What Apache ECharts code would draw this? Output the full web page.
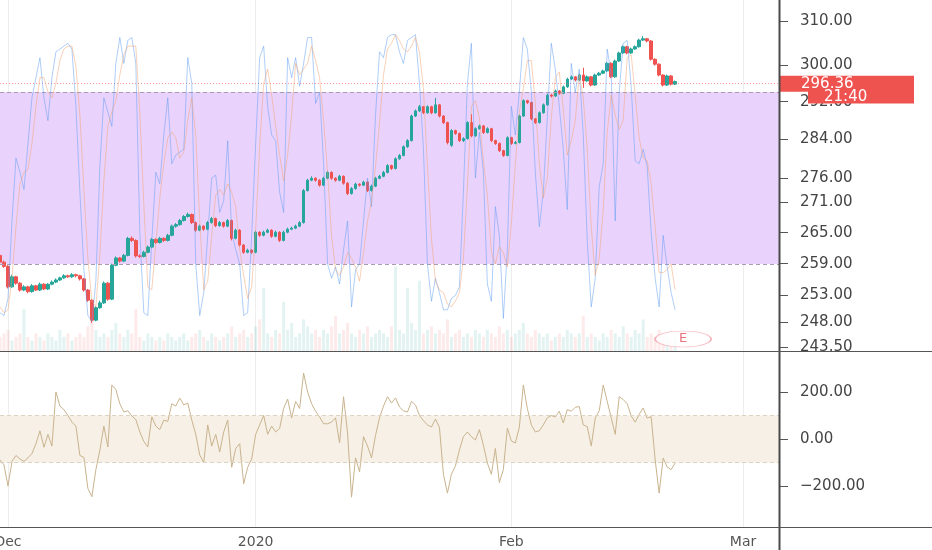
<!DOCTYPE html>
<html><head><meta charset="utf-8">
<script src="https://cdn.jsdelivr.net/npm/echarts@6/dist/echarts.min.js"></script>
<style>html,body{margin:0;padding:0;background:#fff;overflow:hidden}#c{width:932px;height:550px}</style>
</head><body><div id="c"></div><script>
// ---------- data ----------
const slotCount = 196;
const monthIdx = [2, 64, 128, 186];
const monthLabels = ['Dec', '2020', 'Feb', 'Mar'];

const opens = [
260.6,259.3,258.5,254.6,256.5,255.3,254.0,254.6,253.7,254.8,
254.0,255.1,254.2,255.1,255.5,255.9,256.3,256.7,256.5,256.9,
256.7,256.1,254.0,252.1,248.4,250.7,251.6,255.3,252.3,258.7,
260.1,259.5,260.6,263.9,263.5,260.5,260.4,261.2,262.2,263.7,
263.1,263.9,263.5,264.5,266.3,266.6,267.4,268.2,268.6,267.0,
265.5,266.3,265.7,267.0,267.8,266.4,267.0,266.3,267.4,263.9,
265.5,262.6,261.2,261.6,261.2,265.1,264.5,265.1,265.5,264.3,
265.1,263.5,265.1,265.7,265.9,266.3,267.0,273.4,275.5,275.9,
275.5,274.5,275.9,277.1,275.9,275.5,276.3,274.9,272.8,273.8,
274.7,274.5,275.1,273.4,274.3,275.9,276.3,277.1,278.5,277.9,
279.9,280.6,282.4,283.7,288.9,290.0,290.9,289.6,290.9,289.6,
291.3,288.9,287.5,282.7,285.8,285.2,283.7,284.1,287.5,284.7,
286.2,286.8,285.4,286.2,283.7,283.1,281.6,280.6,284.3,283.1,
283.3,288.9,292.2,291.8,288.3,287.5,289.6,291.3,293.4,293.2,
294.3,293.8,295.2,296.9,297.4,296.7,297.8,296.5,297.4,295.6,
297.8,298.2,298.7,300.4,297.4,300.9,302.7,304.1,302.7,303.6,
304.1,305.6,305.9,305.4,301.3,300.2,297.8,295.6,297.6,295.8];

const closes = [
259.3,258.5,254.6,256.5,255.3,254.0,254.6,253.7,254.8,254.0,
255.1,254.2,255.1,255.5,255.9,256.3,256.7,256.5,256.9,256.7,
256.1,254.0,252.1,248.4,250.7,251.6,255.3,252.3,258.7,260.1,
259.5,260.6,263.9,263.5,260.5,260.4,261.2,262.2,263.7,263.1,
263.9,263.5,264.5,266.3,266.6,267.4,268.2,268.6,267.0,265.5,
266.3,265.7,267.0,267.8,266.4,267.0,266.3,267.4,263.9,265.5,
262.6,261.2,261.6,261.2,265.1,264.5,265.1,265.5,264.3,265.1,
263.5,265.1,265.7,265.9,266.3,267.0,273.4,275.5,275.9,275.5,
274.5,275.9,277.1,275.9,275.5,276.3,274.9,272.8,273.8,274.7,
274.5,275.1,273.4,274.3,275.9,276.3,277.1,278.5,277.9,279.9,
280.6,282.4,283.7,288.9,290.0,290.9,289.6,290.9,289.6,291.3,
288.9,287.5,283.3,285.8,285.2,283.7,284.1,287.5,284.7,286.2,
286.8,285.4,286.2,283.7,283.1,281.6,280.6,284.3,283.1,283.3,
288.9,292.2,291.8,288.3,287.5,289.6,291.3,293.4,293.2,294.3,
293.8,295.2,296.9,297.4,296.7,297.8,296.5,297.4,295.6,297.8,
298.2,298.7,300.4,297.4,300.9,302.7,304.1,302.7,303.6,304.1,
305.6,305.9,305.4,301.3,300.2,297.8,295.6,297.6,295.8,296.36];

const highs = [
261.0,259.6,258.7,256.9,256.7,255.5,254.9,254.8,255.1,255.0,
255.4,255.3,255.3,255.8,256.2,256.5,257.0,256.9,257.2,257.1,
256.9,256.3,254.2,252.3,251.0,252.0,255.6,255.5,259.0,260.4,
260.3,260.9,264.2,264.3,263.7,260.8,261.5,262.5,264.0,263.9,
264.2,264.1,264.8,266.6,266.9,267.7,268.5,269.0,268.8,267.2,
266.6,266.5,267.3,268.1,268.0,267.3,267.2,267.7,267.6,265.8,
265.7,262.8,261.9,261.8,265.4,265.3,265.4,265.8,265.7,265.4,
265.3,265.4,266.0,266.2,266.6,267.3,273.7,275.8,276.3,276.1,
275.7,276.2,277.4,277.3,276.1,276.6,276.5,275.1,274.1,275.0,
274.9,275.4,275.3,274.6,276.2,276.6,277.4,278.8,278.7,280.2,
280.9,282.7,284.0,289.2,290.3,291.3,291.1,291.2,291.1,292.8,
291.5,289.1,287.7,286.1,286.0,285.4,284.4,287.8,289.3,286.5,
287.1,287.0,286.5,286.4,283.9,283.3,281.8,284.6,284.5,283.6,
289.2,292.5,292.4,292.0,288.5,289.9,291.6,293.7,293.7,294.6,
294.5,295.5,297.2,297.7,297.6,298.1,299.4,297.7,297.6,298.1,
298.5,299.0,300.7,300.6,301.2,303.0,304.4,304.3,303.9,304.4,
305.9,306.5,306.1,305.6,301.5,300.4,298.0,297.9,297.8,296.6];

const lows = [
259.0,258.2,254.3,254.4,255.0,253.7,253.8,253.4,253.5,253.8,
253.8,254.0,254.0,254.9,255.3,255.7,256.1,256.3,256.3,256.4,
255.8,253.7,251.8,247.9,248.2,250.5,251.4,252.0,252.1,258.5,
259.2,259.3,260.4,263.2,260.2,260.1,260.2,261.0,262.0,262.8,
262.9,263.2,263.3,264.3,266.0,266.4,267.2,268.0,266.7,265.2,
265.3,265.4,265.5,266.8,266.1,266.2,266.0,266.1,263.5,263.7,
262.3,260.9,261.0,260.9,261.0,264.2,264.3,264.9,264.0,264.1,
263.2,263.3,264.9,265.5,265.7,266.1,266.8,273.2,275.3,275.2,
274.2,274.3,275.7,275.6,275.2,275.3,274.6,272.5,272.6,273.6,
274.2,274.3,273.1,273.2,274.1,275.7,276.1,276.9,277.6,277.7,
279.7,280.4,282.2,283.5,288.7,289.8,289.3,289.4,289.3,289.4,
288.6,287.2,282.9,282.4,284.9,283.4,283.4,283.9,284.4,284.5,
286.0,285.1,285.2,283.4,282.8,281.3,280.3,280.4,282.8,282.9,
283.1,288.7,291.5,288.0,287.2,287.3,289.4,291.1,292.9,293.0,
293.5,293.6,295.0,296.7,296.4,296.5,295.0,296.3,295.3,295.4,
297.6,298.0,298.5,297.1,297.2,300.7,302.5,302.4,302.5,303.4,
303.9,305.4,305.1,301.0,299.9,297.5,295.3,295.4,295.5,295.6];

const volumes = [
4,5,6,3,4,5,12,4,3,5,
4,3,5,4,3,6,4,5,3,4,
5,4,7,10,6,4,5,4,6,8,
5,4,6,5,12,4,3,5,4,3,
4,3,5,4,3,4,5,3,4,5,
6,4,3,5,4,3,4,5,7,4,
5,6,4,5,7,9,18,5,4,6,
5,14,6,8,4,5,9,7,5,6,
4,6,5,7,10,5,6,8,5,4,
6,5,7,4,5,6,5,4,7,24,
6,5,18,8,6,20,5,6,7,5,
6,5,9,4,5,6,4,5,4,6,
5,4,6,5,4,7,5,6,4,5,
6,8,5,4,6,5,4,5,3,4,
5,4,6,5,4,5,10,4,5,4,
3,5,4,6,5,4,7,5,4,6,
5,9,4,5,4,6,5,4,3,4];

const stochK = [
3,2,8,35,57,52,46,62,78,85,
92,78,70,85,94,95,96,97,95,75,
45,18,2,0,14,54,78,73,68,90,
99,90,98,99,90,31,3,2,28,52,
48,65,78,55,58,59,60,92,83,20,
2,10,30,50,51,38,42,63,31,25,
20,2,3,30,62,92,96,75,65,63,
45,38,92,85,92,82,90,99,99,76,
80,55,20,15,19,13,25,35,5,18,
20,35,50,40,72,94,92,99,100,100,
94,90,98,99,100,83,60,20,7,15,
10,4,4,8,9,12,45,83,97,50,
66,52,13,7,40,30,1,25,75,65,
80,99,95,80,52,33,45,71,97,88,
75,60,39,90,80,88,65,28,5,15,
47,55,95,86,35,80,97,98,82,56,
55,60,54,31,15,5,30,19,10,4];

const stochD = [
5,3,4,15,33,48,52,53,62,75,
85,85,80,78,83,91,95,96,96,89,
72,46,22,7,5,23,49,68,73,77,
86,93,96,96,96,73,41,12,11,27,
43,55,64,66,64,57,59,70,78,65,
35,11,14,30,44,46,44,48,45,40,
25,16,8,12,32,61,83,88,79,68,
58,49,58,72,90,86,88,90,96,91,
85,70,52,30,18,16,19,24,22,19,
14,24,35,42,54,69,86,95,97,100,
98,95,94,96,99,94,81,54,29,14,
11,10,6,5,7,10,22,47,75,77,
71,56,44,24,20,26,24,19,34,55,
73,81,91,91,76,55,43,50,71,85,
87,74,58,63,70,86,78,60,33,16,
22,39,66,79,72,67,70,92,93,79,
64,57,56,48,33,17,17,18,20,11];

const cci = [
-89,-110,-200,-95,-70,-85,-95,-80,-62,-20,
35,-35,20,-30,200,140,125,100,72,55,
-70,-78,-210,-245,-130,-47,55,-34,230,210,
150,115,120,98,83,30,-10,-34,94,55,
40,80,75,150,140,174,145,153,81,20,
-68,-100,60,-30,20,-55,30,81,-120,-40,
-20,-190,-120,-85,20,60,100,20,55,30,
45,130,170,90,160,130,280,200,150,118,
94,65,65,72,90,-17,180,26,-247,-80,
-140,10,-30,-80,15,90,140,180,153,175,
136,120,115,160,145,100,78,60,51,85,
50,-150,-230,-150,-115,-47,10,30,10,-4,
40,-26,-102,-150,-40,-185,-130,47,-8,-17,
50,230,130,60,30,35,60,90,100,94,
118,68,125,118,135,138,60,53,-30,89,
120,230,160,90,20,180,168,150,98,72,
105,132,89,95,-89,-230,-81,-119,-130,-102];

const priceTicks = [310, 300, 292, 284, 276, 271, 265, 259, 253, 248, 243.5];
const cciTicks = [200, 0, -200];
const priceRange = [242.8, 314.8];
const stochRange = [-10.36, 112.1];
const volumeRange = [0, 100];
const cciRange = [-374, 370];
const stochBand = [20, 80];
const cciBand = [-100, 100];
const lastPrice = 296.36;
const countdown = '21:40';
const earnings = { index: 171, level: 3.4, label: 'E' };

// ---------- layout / style ----------
const W = 932, H = 550, PLOT_W = 779, TOP_H = 351, BOT_TOP = 352, BOT_H = 175;
const UP = '#26a69a', DOWN = '#ef5350';
const FONT = 'DejaVu Sans';

const cats = Array.from({ length: slotCount }, (_, i) => String(i));
const isMonth = (i) => monthIdx.indexOf(i) >= 0;
const lg = Math.log;

const candleData = opens.map((o, i) => [lg(o), lg(closes[i]), lg(lows[i]), lg(highs[i])]);
const volData = volumes.map((v, i) => ({
  value: v,
  itemStyle: { color: closes[i] >= opens[i] ? 'rgba(38,166,154,0.13)' : 'rgba(239,83,80,0.12)' }
}));

const chart = echarts.init(document.getElementById('c'));
const xBase = {
  type: 'category', data: cats, boundaryGap: false,
  axisLine: { show: false },
  splitLine: { show: true, interval: (i) => isMonth(i), lineStyle: { color: 'rgba(0,0,0,0.07)', width: 1 } }
};

chart.setOption({
  animation: false,
  backgroundColor: '#fff',
  grid: [
    { left: 0, top: 0, width: PLOT_W, height: TOP_H, outerBoundsMode: 'none', containLabel: false },
    { left: 0, top: BOT_TOP, width: PLOT_W, height: BOT_H, outerBoundsMode: 'none', containLabel: false }
  ],
  xAxis: [
    Object.assign({}, xBase, { gridIndex: 0, axisTick: { show: false }, axisLabel: { show: false } }),
    Object.assign({}, xBase, {
      gridIndex: 1,
      axisTick: { show: true, interval: (i) => isMonth(i), length: 4, lineStyle: { color: '#555', width: 1.5 } },
      axisLabel: {
        show: true, interval: (i) => isMonth(i), margin: 8,
        formatter: (v, i) => monthLabels[monthIdx.indexOf(i)] || '',
        color: '#555', fontSize: 14, fontFamily: FONT
      }
    })
  ],
  yAxis: [
    {
      gridIndex: 0, type: 'value', position: 'right', min: lg(priceRange[0]), max: lg(priceRange[1]),
      axisLine: { show: false }, splitLine: { show: false },
      axisTick: { show: true, customValues: priceTicks.map(lg), length: 9, lineStyle: { color: '#555' } },
      axisLabel: {
        customValues: priceTicks.map(lg), margin: 21, color: '#444', fontSize: 15, fontFamily: FONT,
        formatter: (v) => Math.exp(v).toFixed(2)
      }
    },
    { gridIndex: 0, type: 'value', min: stochRange[0], max: stochRange[1], show: false },
    { gridIndex: 0, type: 'value', min: volumeRange[0], max: volumeRange[1], show: false },
    {
      gridIndex: 1, type: 'value', position: 'right', min: cciRange[0], max: cciRange[1],
      axisLine: { show: false }, splitLine: { show: false },
      axisTick: { show: true, customValues: cciTicks, length: 9, lineStyle: { color: '#555' } },
      axisLabel: {
        customValues: cciTicks, margin: 21, color: '#444', fontSize: 15, fontFamily: FONT,
        formatter: (v) => { const r = Math.round(v); return (r < 0 ? '\u2212' : '') + Math.abs(r).toFixed(2); }
      }
    }
  ],
  series: [
    {
      name: 'StochBand', type: 'line', xAxisIndex: 0, yAxisIndex: 1, data: stochK, z: 1, silent: true,
      showSymbol: false, lineStyle: { opacity: 0 },
      markArea: { silent: true, itemStyle: { color: '#e9d3fd' }, data: [[{ yAxis: stochBand[0] }, { yAxis: stochBand[1] }]] },
      markLine: { silent: true, symbol: ['none', 'none'], label: { show: false },
        lineStyle: { color: '#a99bb3', type: [4, 3], width: 1 },
        data: [{ yAxis: stochBand[0] }, { yAxis: stochBand[1] }] }
    },
    {
      name: 'Volume', type: 'bar', xAxisIndex: 0, yAxisIndex: 2, data: volData, barWidth: 3, z: 2, silent: true
    },
    {
      name: 'Price', type: 'candlestick', xAxisIndex: 0, yAxisIndex: 0, data: candleData, barWidth: 3, z: 4,
      clip: false,
      itemStyle: { color: UP, color0: DOWN, borderColor: UP, borderColor0: DOWN, borderWidth: 1 },
      markLine: {
        silent: true, symbol: ['none', 'none'],
        lineStyle: { color: 'rgba(239,83,80,0.6)', type: [1, 2], width: 1 },
        label: {
          show: true, position: 'end', distance: 0, formatter: lastPrice.toFixed(2),
          backgroundColor: DOWN, color: '#fff', fontSize: 15, fontFamily: FONT,
          padding: [2, 8, 0, 22], width: 105, lineHeight: 14, align: 'left'
        },
        data: [{ yAxis: lg(lastPrice) }]
      }
    },
    {
      name: 'StochK', type: 'line', xAxisIndex: 0, yAxisIndex: 1, data: stochK, z: 5, silent: true,
      showSymbol: false, lineStyle: { color: '#5b9cf0', width: 0.9, opacity: 0.55 }
    },
    {
      name: 'StochD', type: 'line', xAxisIndex: 0, yAxisIndex: 1, data: stochD, z: 5, silent: true,
      showSymbol: false, lineStyle: { color: '#f2a26e', width: 0.9, opacity: 0.55 }
    },
    {
      name: 'Earnings', type: 'scatter', xAxisIndex: 0, yAxisIndex: 2, z: 6, silent: true,
      data: [[earnings.index, earnings.level]], symbol: 'circle', symbolSize: [56, 16],
      itemStyle: { color: '#fff', borderColor: '#f1a2aa', borderWidth: 1 },
      label: { show: true, position: 'inside', formatter: earnings.label, color: '#e2505c', fontSize: 13, fontFamily: FONT }
    },
    {
      name: 'CCIBand', type: 'line', xAxisIndex: 1, yAxisIndex: 3, data: cci, z: 1, silent: true,
      showSymbol: false, lineStyle: { opacity: 0 },
      markArea: { silent: true, itemStyle: { color: '#f6f0e6' }, data: [[{ yAxis: cciBand[0] }, { yAxis: cciBand[1] }]] },
      markLine: { silent: true, symbol: ['none', 'none'], label: { show: false },
        lineStyle: { color: '#ddd3c3', type: [4, 3], width: 1 },
        data: [{ yAxis: cciBand[0] }, { yAxis: cciBand[1] }] }
    },
    {
      name: 'CCI', type: 'line', xAxisIndex: 1, yAxisIndex: 3, data: cci, z: 3, silent: true,
      showSymbol: false, lineStyle: { color: '#c9b38e', width: 1 }
    }
  ]
});

const py = chart.convertToPixel({ yAxisIndex: 0 }, lg(lastPrice));
chart.setOption({
  graphic: { elements: [
    { type: 'line', silent: true, z: 20, shape: { x1: PLOT_W + 0.5, y1: 0, x2: PLOT_W + 0.5, y2: H }, style: { stroke: '#4a4a4a', lineWidth: 2 } },
    { type: 'line', silent: true, z: 20, shape: { x1: 0, y1: TOP_H + 0.5, x2: W, y2: TOP_H + 0.5 }, style: { stroke: '#555', lineWidth: 1.2 } },
    { type: 'line', silent: true, z: 20, shape: { x1: 0, y1: BOT_TOP + BOT_H + 0.5, x2: W, y2: BOT_TOP + BOT_H + 0.5 }, style: { stroke: '#555', lineWidth: 1.2 } },
    { type: 'rect', silent: true, z: 21, shape: { x: 808, y: py + 8, width: 106, height: 14 }, style: { fill: DOWN } },
    { type: 'text', silent: true, z: 22, x: 824, y: py + 15.5,
      style: { text: countdown, fill: '#fff', font: '15px "DejaVu Sans"', verticalAlign: 'middle', align: 'left' } }
  ] }
});
</script></body></html>
